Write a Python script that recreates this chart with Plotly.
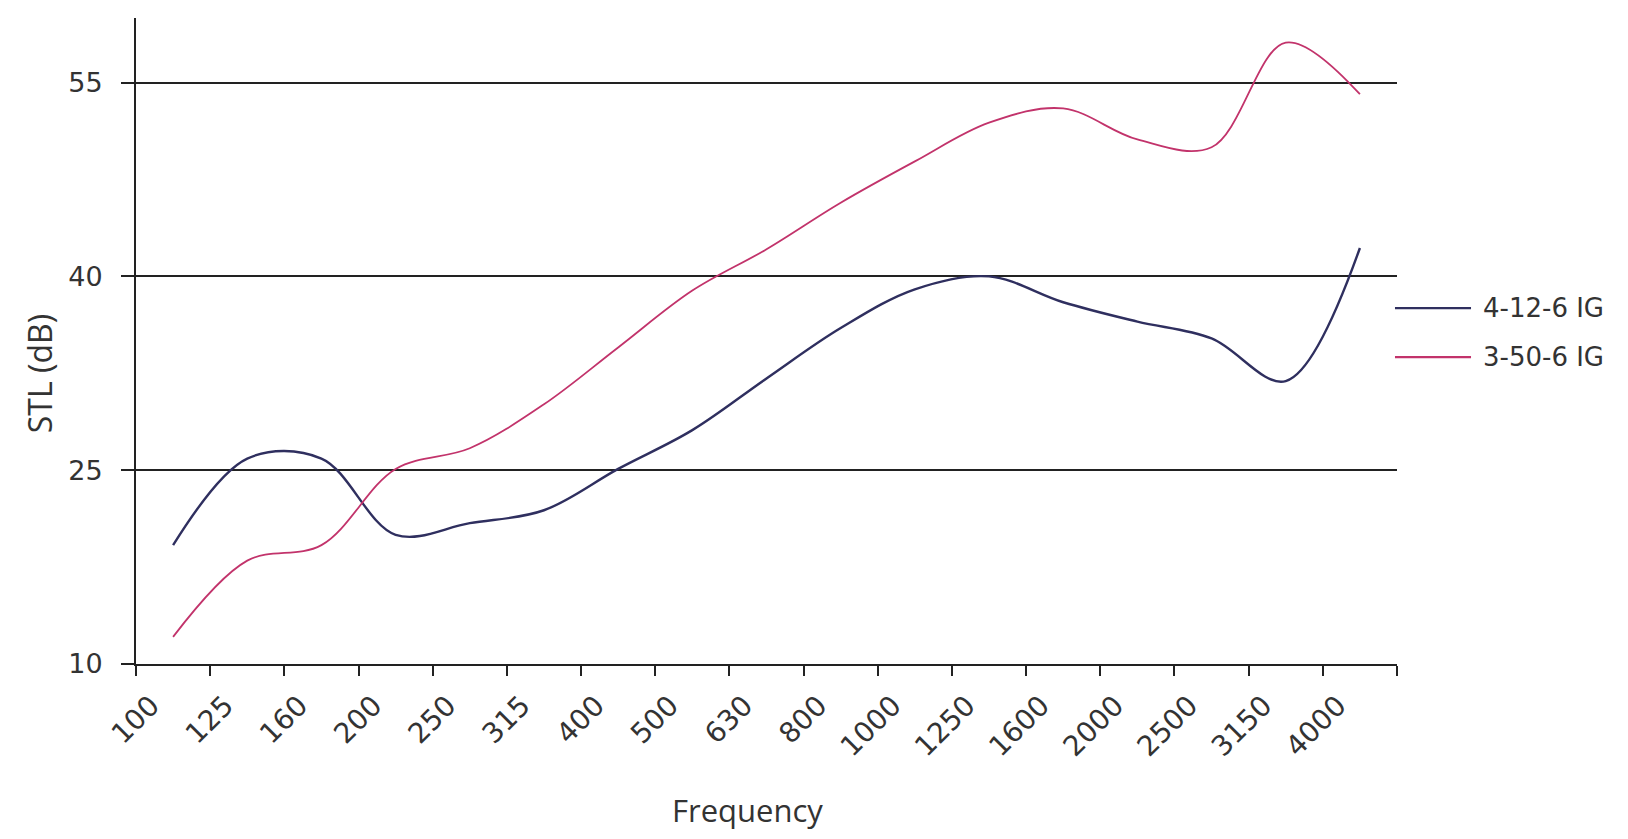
import plotly.graph_objects as go

# ==========================================
# STL vs FREQUENCY
# ==========================================

freqs = ["100", "125", "160", "200", "250", "315", "400", "500", "630",
         "800", "1000", "1250", "1600", "2000", "2500", "3150", "4000"]

stl_4_12_6 = [19.2, 25.9, 25.9, 20.0, 20.9, 21.9, 25.1, 28.1, 32.1,
              36.0, 39.0, 40.0, 38.0, 36.5, 35.2, 31.9, 42.2]

stl_3_50_6 = [12.1, 18.0, 19.2, 25.1, 26.7, 30.1, 34.5, 38.9, 42.1,
              45.7, 48.9, 51.9, 53.0, 50.6, 50.0, 58.1, 54.1]

y_ticks = [10, 25, 40, 55]

navy = "#2f2f5f"
pink = "#c2336b"
ink = "#333333"

fig = go.Figure()

fig.add_trace(
    go.Scatter(
        x=freqs,
        y=stl_4_12_6,
        name="4-12-6 IG",
        mode="lines",
        line=dict(color=navy, width=2.4, shape="spline", smoothing=1.0),
        showlegend=False
    )
)

fig.add_trace(
    go.Scatter(
        x=freqs,
        y=stl_3_50_6,
        name="3-50-6 IG",
        mode="lines",
        line=dict(color=pink, width=1.8, shape="spline", smoothing=1.0),
        showlegend=False
    )
)

# hand-drawn legend, long keys like the original
legend_items = [("4-12-6 IG", navy, 0.551), ("3-50-6 IG", pink, 0.475)]
for label, color, ly in legend_items:
    fig.add_shape(
        type="line", xref="paper", yref="paper",
        x0=0.9984, x1=1.0587, y0=ly, y1=ly,
        line=dict(color=color, width=2.2)
    )
    fig.add_annotation(
        text=label, xref="paper", yref="paper",
        x=1.0666, y=ly, xanchor="left", yanchor="middle",
        showarrow=False,
        font=dict(family="DejaVu Sans", size=26, color=ink)
    )

# axis titles
fig.add_annotation(
    text="STL (dB)", xref="paper", yref="paper",
    x=-0.077, y=0.45, textangle=-90,
    xanchor="center", yanchor="middle", showarrow=False,
    font=dict(family="Open Sans", size=32, color=ink)
)
fig.add_annotation(
    text="Frequency", xref="paper", yref="paper",
    x=0.485, y=-0.226,
    xanchor="center", yanchor="middle", showarrow=False,
    font=dict(family="Open Sans", size=31, color=ink)
)

fig.update_layout(
    width=1628,
    height=839,
    template="plotly_white",
    paper_bgcolor="white",
    plot_bgcolor="white",
    margin=dict(l=128, r=239, t=10, b=183),
    font=dict(family="DejaVu Sans", color=ink)
)

fig.update_xaxes(
    type="category",
    range=[-0.5, 16.5],
    showgrid=False,
    showline=True,
    linecolor="#222222",
    linewidth=2,
    ticks="outside",
    tickson="boundaries",
    ticklen=10,
    tickwidth=2,
    tickcolor="#222222",
    tickangle=-45,
    tickfont=dict(family="DejaVu Sans", size=28, color=ink),
    ticklabelshift=-22,
    ticklabelstandoff=12,
    zeroline=False
)

fig.update_yaxes(
    range=[10, 60],
    tickvals=y_ticks,
    showgrid=True,
    gridcolor="#222222",
    gridwidth=2,
    showline=True,
    linecolor="#222222",
    linewidth=2,
    ticks="outside",
    ticklen=13,
    tickwidth=2,
    tickcolor="#222222",
    tickfont=dict(family="DejaVu Sans", size=27, color=ink),
    ticklabelstandoff=13,
    zeroline=False
)

fig.write_html("out.html")
